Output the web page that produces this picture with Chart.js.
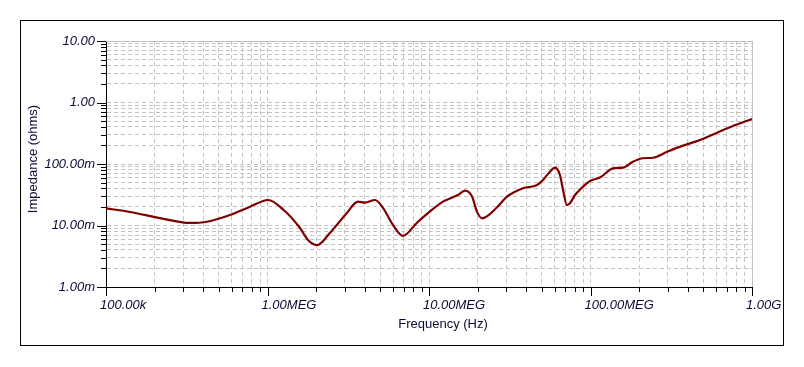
<!DOCTYPE html>
<html>
<head>
<meta charset="utf-8">
<script src="https://cdn.jsdelivr.net/npm/chart.js@4/dist/chart.umd.min.js"></script>
<style>
body { margin: 0; background: #fff; }
canvas { display: block; }
</style>
</head>
<body>
<canvas id="grafica" width="804" height="367"></canvas>
<script>
// Frecuencia (Hz) e impedancia (ohms)
const frecuencias = [
    1.00e5, 1.41e5, 2.16e5, 3.31e5, 4.22e5, 5.86e5, 7.80e5, 1.01e6, 1.25e6, 1.59e6,
    1.78e6, 2.03e6, 2.44e6, 3.10e6, 3.63e6, 4.01e6, 4.63e6, 5.19e6, 5.98e6, 6.90e6,
    8.43e6, 1.01e7, 1.22e7, 1.51e7, 1.67e7, 1.85e7, 1.98e7, 2.13e7, 2.64e7, 3.04e7,
    3.82e7, 4.67e7, 5.08e7, 5.61e7, 6.03e7, 6.47e7, 6.76e7, 7.15e7, 7.46e7, 8.02e7,
    8.99e7, 9.94e7, 1.15e8, 1.38e8, 1.59e8, 1.83e8, 2.11e8, 2.44e8, 2.98e8, 3.74e8,
    4.77e8, 6.07e8, 7.62e8, 1.00e9
];
const impedancias = [
    0.0190, 0.0166, 0.0132, 0.0110, 0.0115, 0.0148, 0.0202, 0.0260, 0.0182, 0.0091,
    0.0058, 0.0048, 0.0076, 0.0160, 0.0244, 0.0235, 0.0260, 0.0193, 0.0102, 0.0068,
    0.0111, 0.0168, 0.0244, 0.0313, 0.0368, 0.0294, 0.0168, 0.0131, 0.0198, 0.0294,
    0.0403, 0.0456, 0.0550, 0.0750, 0.0871, 0.0662, 0.0378, 0.0215, 0.0230, 0.0313,
    0.0428, 0.0530, 0.0608, 0.0851, 0.0871, 0.109, 0.124, 0.1265, 0.158, 0.199,
    0.245, 0.323, 0.415, 0.540
];

const decadasX = [1e5, 1e6, 1e7, 1e8, 1e9];
const etiquetasX = ["100.00k", "1.00MEG", "10.00MEG", "100.00MEG", "1.00G"];
const decadasY = [1e-3, 1e-2, 1e-1, 1, 10];
const etiquetasY = ["1.00m", "10.00m", "100.00m", "1.00", "10.00"];

const colorTexto = "#0a0a36";
const fuenteEje = { family: "'Liberation Sans', Arial, sans-serif", size: 13, style: "italic" };

// marcas 1..9 de cada decada
function ticksLog(decadas) {
    const ticks = [];
    for (let i = 0; i < decadas.length; i++) {
        ticks.push({ value: decadas[i], major: true });
        if (i < decadas.length - 1) {
            for (let m = 2; m < 10; m++) {
                ticks.push({ value: decadas[i] * m, major: false });
            }
        }
    }
    return ticks;
}

const marcas = {
    id: "marcas",
    beforeDraw(chart) {
        const ctx = chart.ctx;
        ctx.save();
        ctx.fillStyle = "#fff";
        ctx.fillRect(0, 0, chart.width, chart.height);
        ctx.strokeStyle = "#000";
        ctx.lineWidth = 1;
        ctx.strokeRect(20.5, 20.5, 763, 325);
        ctx.restore();
    },
    beforeDatasetsDraw(chart) {
        const ctx = chart.ctx;
        const a = chart.chartArea;
        const x = chart.scales.x;
        const y = chart.scales.y;
        ctx.save();
        // borde gris arriba y a la derecha
        ctx.strokeStyle = "#c0c0c0";
        ctx.lineWidth = 1;
        ctx.beginPath();
        ctx.moveTo(a.left, a.top + 0.5);
        ctx.lineTo(a.right + 0.5, a.top + 0.5);
        ctx.lineTo(a.right + 0.5, a.bottom);
        ctx.stroke();

        ctx.strokeStyle = "#000";
        ctx.beginPath();
        for (const t of x.ticks) {
            const px = Math.round(x.getPixelForValue(t.value)) + 0.5;
            ctx.moveTo(px, a.bottom);
            ctx.lineTo(px, a.bottom + (t.major ? 9 : 5));
        }
        for (const t of y.ticks) {
            const py = Math.round(y.getPixelForValue(t.value)) + 0.5;
            ctx.moveTo(a.left - (t.major ? 9 : 5), py);
            ctx.lineTo(a.left, py);
        }
        ctx.stroke();

        // titulos de los ejes
        ctx.fillStyle = colorTexto;
        ctx.font = "13px 'Liberation Sans', Arial, sans-serif";
        ctx.textAlign = "center";
        ctx.textBaseline = "middle";
        ctx.fillText("Frequency (Hz)", 443, 324);
        ctx.translate(33, 159);
        ctx.rotate(-Math.PI / 2);
        ctx.fillText("Impedance (ohms)", 0, 0);
        ctx.restore();
    }
};

const puntos = frecuencias.map((f, i) => ({ x: f, y: impedancias[i] }));

new Chart(document.getElementById("grafica"), {
    type: "line",
    data: {
        datasets: [{
            data: puntos,
            borderColor: "#800000",
            borderWidth: 2.2,
            pointRadius: 0,
            cubicInterpolationMode: "monotone",
            fill: false
        }]
    },
    options: {
        responsive: false,
        animation: false,
        events: [],
        layout: { padding: { top: 41, right: 52, bottom: 0, left: 0 } },
        plugins: { legend: { display: false }, tooltip: { enabled: false } },
        scales: {
            x: {
                type: "logarithmic",
                min: 1e5,
                max: 1e9,
                afterBuildTicks: s => { s.ticks = ticksLog(decadasX); },
                afterFit: s => { s.height = 80; },
                grid: { color: "#c4c4c4", lineWidth: 1, drawTicks: false },
                border: { display: true, color: "#000", width: 1, dash: [4, 3] },
                ticks: {
                    autoSkip: false,
                    maxRotation: 0,
                    minRotation: 0,
                    align: "start",
                    labelOffset: -6,
                    padding: 11,
                    color: colorTexto,
                    font: fuenteEje,
                    callback: (v) => {
                        const i = decadasX.indexOf(v);
                        return i >= 0 ? etiquetasX[i] : "";
                    }
                }
            },
            y: {
                type: "logarithmic",
                min: 1e-3,
                max: 10,
                afterBuildTicks: s => { s.ticks = ticksLog(decadasY); },
                afterFit: s => { s.width = 106; },
                grid: { color: "#c4c4c4", lineWidth: 1, drawTicks: false },
                border: { display: true, color: "#000", width: 1, dash: [4, 3] },
                ticks: {
                    autoSkip: false,
                    padding: 11,
                    color: colorTexto,
                    font: fuenteEje,
                    callback: (v) => {
                        const i = decadasY.indexOf(v);
                        return i >= 0 ? etiquetasY[i] : "";
                    }
                }
            }
        }
    },
    plugins: [marcas]
});
</script>
</body>
</html>
